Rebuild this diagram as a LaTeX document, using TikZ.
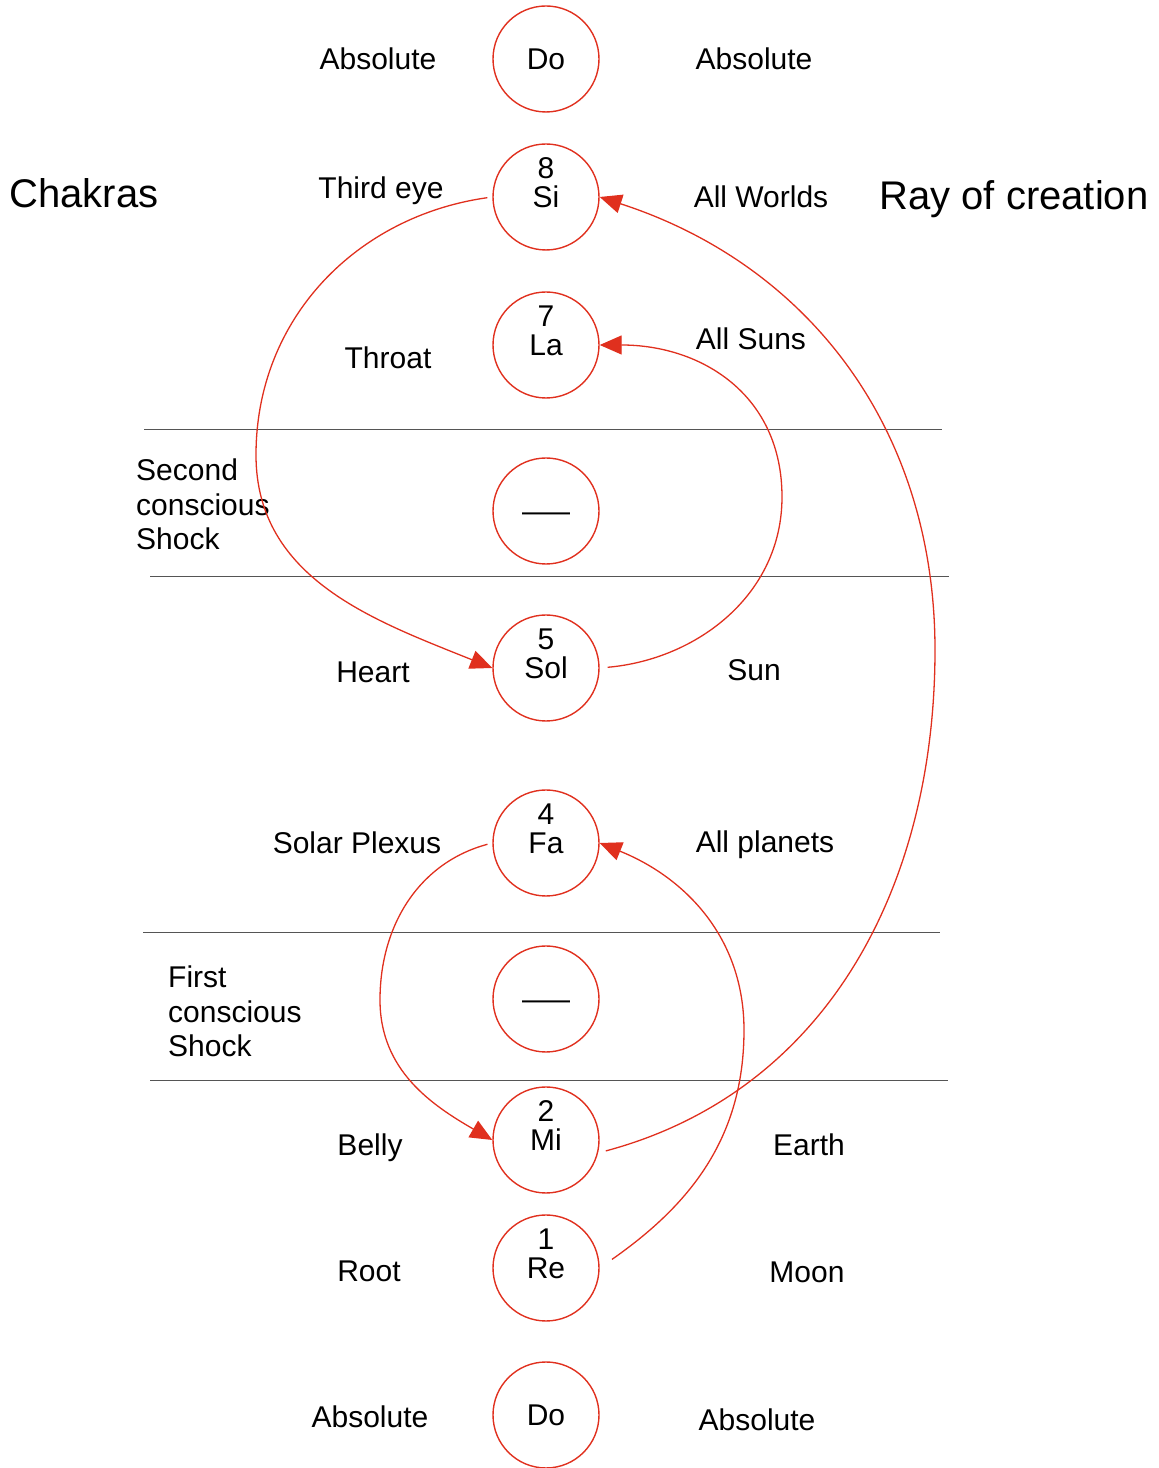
\documentclass[tikz,border=0pt]{standalone}
\usepackage{graphicx}
\usepackage{fontspec}
\setmainfont{Liberation Sans}
\usetikzlibrary{arrows.meta,positioning}
\definecolor{ray}{HTML}{E0301E}
\definecolor{rulegray}{HTML}{555555}
\tikzset{
  note/.style={circle,draw=ray,line width=1.4pt,minimum size=106pt,inner sep=0pt,
               font=\fontsize{30}{30}\selectfont,text height=21.5pt,text depth=0pt},
  num/.style={font=\fontsize{30}{30}\selectfont,text height=21.5pt,text depth=0pt,inner sep=0pt,yshift=29pt},
  txt/.style={font=\fontsize{30}{30}\selectfont,text height=21.5pt,text depth=0pt,inner sep=0pt},
  blk/.style={font=\fontsize{30}{34.5}\selectfont,align=left,inner sep=0pt,anchor=north west},
  ttl/.style={font=\fontsize{40}{40}\selectfont,text height=28.6pt,text depth=0pt,inner sep=0pt},
  sep/.style={draw=rulegray,line width=1pt},
  fl/.style={-{Triangle[length=22pt,width=19pt]},line width=1.3pt,draw=ray},
}
\begin{document}
\begin{tikzpicture}[x=1pt,y=1pt]
\useasboundingbox (0,0) rectangle (1159,1468);
% separators of the shocks
\draw[sep] (144,1038) -- (942,1038);
\draw[sep] (150,891) -- (949,891);
\draw[sep] (143,535) -- (940,535);
\draw[sep] (150,387) -- (948,387);
% the octave
\node[note] (DoT) at (546,1409) {Do};
\node[note, label={[num]center:8}] (Si) at (546,1271) {Si};
\node[note, label={[num]center:7}] (La) at (546,1123) {La};
\node[note] (ShkB) at (546,957) {\scalebox{1.6}[1]{—}};
\node[note, label={[num]center:5}] (Sol) at (546,800) {Sol};
\node[note, label={[num]center:4}] (Fa) at (546,625) {Fa};
\node[note] (ShkA) at (546,469) {\scalebox{1.6}[1]{—}};
\node[note, label={[num]center:2}] (Mi) at (546,328) {Mi};
\node[note, label={[num]center:1}] (Re) at (546,200) {Re};
\node[note] (DoB) at (546,53) {Do};
% chakras
\node[ttl] (chak) at (84,1275) {Chakras};
\node[txt] (absL1) at (378,1409) {Absolute};
\node[txt] (eye) at (381,1280) {Third eye};
\node[txt] (throat) at (388,1110) {Throat};
\node[blk] (shock2) at (136,1009) {Second\\conscious\\Shock};
\node[txt] (heart) at (373,796) {Heart};
\node[txt] (plexus) at (357,625) {Solar Plexus};
\node[blk] (shock1) at (168,502) {First\\conscious\\Shock};
\node[txt] (belly) at (370,323) {Belly};
\node[txt] (root) at (369,197) {Root};
\node[txt] (absL2) at (370,51) {Absolute};
% ray of creation
\node[ttl] (ray) at (1014,1273) {Ray of creation};
\node[txt] (absR1) at (754,1409) {Absolute};
\node[txt] (worlds) at (761,1271) {All Worlds};
\node[txt] (suns) at (751,1129) {All Suns};
\node[txt] (sun) at (754,798) {Sun};
\node[txt] (planets) at (765,626) {All planets};
\node[txt] (earth) at (809,323) {Earth};
\node[txt] (moon) at (807,196) {Moon};
\node[txt] (absR2) at (757,48) {Absolute};
% shocks
\draw[fl, shorten <=5pt] (Si.west) to[out=188,in=90] (256,1013) to[out=270,in=158] (Sol.west);
\draw[fl, shorten <=8pt] (Sol.east) to[out=5,in=270] (782,971) to[out=90,in=0,looseness=1.1] (La.east);
\draw[fl, shorten <=5pt] (Fa.west) to[out=195,in=90] (380,468) to[out=270,in=150] (Mi.west);
\draw[fl, shorten <=8pt] (Mi.-14) to[out=15,in=270] (935,818) to[out=90,in=-18] (Si.east);
\draw[fl, shorten <=15pt] (Re.east) to[out=35,in=270] (744,438) to[out=90,in=-22] (Fa.east);
\end{tikzpicture}
\end{document}
